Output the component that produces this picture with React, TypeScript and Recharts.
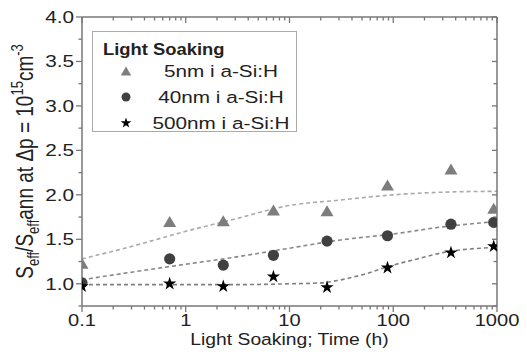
import {
  ComposedChart,
  Line,
  Scatter,
  XAxis,
  YAxis,
  Legend,
  Symbols,
} from "recharts"

// soaking times (h) of the measured points
const hours = [0.1, 0.7, 2.3, 7, 23, 88, 360, 930]
const ratio5nm = [1.23, 1.7, 1.71, 1.83, 1.82, 2.11, 2.29, 1.85]
const ratio40nm = [1.01, 1.28, 1.21, 1.32, 1.48, 1.54, 1.67, 1.69]
const ratio500nm = [0.97, 1.0, 0.97, 1.08, 0.96, 1.18, 1.35, 1.42]

// dashed guide curves
const fitHours = [0.1, 0.3, 1, 3, 10, 30, 100, 300, 1000]
const fit5nm = [1.28, 1.42, 1.59, 1.73, 1.88, 1.94, 2.0, 2.03, 2.04]
const fit40nm = [1.045, 1.13, 1.22, 1.3, 1.4, 1.49, 1.56, 1.64, 1.7]
const fitHours500 = [0.1, 1, 3, 10, 20, 30, 50, 100, 200, 300, 1000]
const fit500nm = [0.99, 0.99, 0.99, 1.0, 1.01, 1.04, 1.1, 1.21, 1.3, 1.35, 1.41]

const seriesNames = ["5nm i a-Si:H", "40nm i a-Si:H", "500nm i a-Si:H"]

const xMajor = [0.1, 1, 10, 100, 1000]
const xMinor = [0.1, 1, 10, 100].flatMap((d) =>
  [2, 3, 4, 5, 6, 7, 8, 9].map((m) => m * d)
)
const xTicks = [...xMajor, ...xMinor]
const yTicks = [0.75, 1, 1.25, 1.5, 1.75, 2, 2.25, 2.5, 2.75, 3, 3.25, 3.5, 3.75, 4]

const pts = (xs: number[], ys: number[]) => xs.map((t, i) => ({ t, v: ys[i] }))

const FONT = "'Liberation Sans', Arial, sans-serif"
const INK = "#222"
const AXIS = "#777"
const STRETCH = 1.22

const Triangle = ({ cx, cy, s = 1 }: any) => (
  <path
    d={`M${cx},${cy - 5.5 * s}L${cx - 6.5 * s},${cy + 5.5 * s}L${cx + 6.5 * s},${cy + 5.5 * s}Z`}
    fill="#7d7d7d"
  />
)
const Dot = ({ cx, cy, s = 1 }: any) => <circle cx={cx} cy={cy} r={5.6 * s} fill="#404040" />
const Star = ({ cx, cy, s = 1 }: any) => (
  <Symbols cx={cx} cy={cy} type="star" size={55 * s * s} fill="#000" />
)

const isMajorX = (v: number) => xMajor.includes(v)
const isMajorY = (v: number) => Math.abs(v * 2 - Math.round(v * 2)) < 1e-6

const BottomTick = ({ x, y, payload }: any) => {
  const major = isMajorX(payload.value)
  return (
    <g>
      <line x1={x} x2={x} y1={y} y2={y + (major ? 6 : 3.5)} stroke={AXIS} strokeWidth={1.3} />
      {major && (
        <text
          transform={`translate(${x},${y + 20}) scale(${STRETCH},1)`}
          textAnchor="middle"
          fontSize={16.5}
          fontFamily={FONT}
          fill={INK}
        >
          {payload.value}
        </text>
      )}
    </g>
  )
}

const TopTick = ({ x, y, payload }: any) => (
  <line
    x1={x}
    x2={x}
    y1={y}
    y2={y + (isMajorX(payload.value) ? 6 : 3.5)}
    stroke={AXIS}
    strokeWidth={1.3}
  />
)

const LeftTick = ({ x, y, payload }: any) => {
  const major = isMajorY(payload.value)
  return (
    <g>
      <line x1={x} x2={x - (major ? 6 : 3.5)} y1={y} y2={y} stroke={AXIS} strokeWidth={1.3} />
      {major && (
        <text
          transform={`translate(${x - 8},${y + 6}) scale(${STRETCH},1)`}
          textAnchor="end"
          fontSize={17}
          fontFamily={FONT}
          fill={INK}
        >
          {payload.value.toFixed(1)}
        </text>
      )}
    </g>
  )
}

const RightTick = ({ x, y, payload }: any) => (
  <line
    x1={x}
    x2={x - (isMajorY(payload.value) ? 5 : 3.5)}
    y1={y}
    y2={y}
    stroke={AXIS}
    strokeWidth={1.3}
  />
)

const XTitle = ({ viewBox }: any) => (
  <text
    transform={`translate(${viewBox.x + viewBox.width / 2},${viewBox.y + 39}) scale(1.17,1)`}
    textAnchor="middle"
    fontSize={16.5}
    fontFamily={FONT}
    fill={INK}
  >
    Light Soaking; Time (h)
  </text>
)

const YTitle = ({ viewBox }: any) => (
  <text
    transform={`translate(${viewBox.x + 25},${viewBox.y + viewBox.height / 2}) rotate(-90) scale(1,${STRETCH})`}
    textAnchor="middle"
    fontSize={19}
    fontFamily={FONT}
    fill={INK}
  >
    S
    <tspan dy={5} fontSize={13}>eff</tspan>
    <tspan dy={-5}>/S</tspan>
    <tspan dy={5} fontSize={13}>eff</tspan>
    <tspan dy={-5}>ann at Δp = 10</tspan>
    <tspan dy={-8} fontSize={13}>15</tspan>
    <tspan dy={8}>cm</tspan>
    <tspan dy={-8} fontSize={13}>-3</tspan>
  </text>
)

const LegendBox = () => {
  const rows = [Triangle, Dot, Star]
  return (
    <svg width={205} height={101} style={{ display: "block" }}>
      <rect x={0.5} y={0.5} width={204} height={100} fill="#fff" stroke="#aaa" />
      <text
        transform="translate(11,24) scale(1.15,1)"
        fontSize={16}
        fontWeight="bold"
        fontFamily={FONT}
        fill={INK}
      >
        Light Soaking
      </text>
      {rows.map((Mark, i) => (
        <g key={seriesNames[i]}>
          <Mark cx={34} cy={40 + i * 26} s={0.8} />
          <text
            transform={`translate(129,${46 + i * 26}) scale(${STRETCH},1)`}
            textAnchor="middle"
            fontSize={17}
            fontFamily={FONT}
            fill={INK}
          >
            {seriesNames[i]}
          </text>
        </g>
      ))}
    </svg>
  )
}

export default function App() {
  const axisLine = { stroke: AXIS, strokeWidth: 1.5 }
  return (
    <ComposedChart
      width={511}
      height={340}
      margin={{ top: 8, right: 21, bottom: 0, left: 0 }}
      style={{ fontFamily: FONT }}
    >
      <XAxis
        xAxisId="b"
        dataKey="t"
        type="number"
        scale="log"
        domain={[0.1, 1000]}
        allowDataOverflow
        ticks={xTicks}
        interval={0}
        height={42}
        tickSize={0}
        tickMargin={0}
        tickLine={false}
        axisLine={axisLine}
        tick={<BottomTick />}
        label={<XTitle />}
      />
      <XAxis
        xAxisId="t"
        orientation="top"
        dataKey="t"
        type="number"
        scale="log"
        domain={[0.1, 1000]}
        allowDataOverflow
        ticks={xTicks}
        interval={0}
        height={1}
        tickSize={0}
        tickMargin={0}
        tickLine={false}
        axisLine={axisLine}
        tick={<TopTick />}
      />
      <YAxis
        yAxisId="l"
        dataKey="v"
        type="number"
        domain={[0.75, 4]}
        allowDataOverflow
        ticks={yTicks}
        interval={0}
        width={74}
        tickSize={0}
        tickMargin={0}
        tickLine={false}
        axisLine={axisLine}
        tick={<LeftTick />}
        label={<YTitle />}
      />
      <YAxis
        yAxisId="r"
        orientation="right"
        dataKey="v"
        type="number"
        domain={[0.75, 4]}
        allowDataOverflow
        ticks={yTicks}
        interval={0}
        width={1}
        tickSize={0}
        tickMargin={0}
        tickLine={false}
        axisLine={axisLine}
        tick={<RightTick />}
      />

      <Line
        xAxisId="b"
        yAxisId="l"
        data={pts(fitHours, fit5nm)}
        dataKey="v"
        type="monotone"
        stroke="#aaa"
        strokeWidth={1.6}
        strokeDasharray="4 3"
        dot={false}
        activeDot={false}
        legendType="none"
        isAnimationActive={false}
      />
      <Line
        xAxisId="b"
        yAxisId="l"
        data={pts(fitHours, fit40nm)}
        dataKey="v"
        type="monotone"
        stroke="#888"
        strokeWidth={1.6}
        strokeDasharray="4 3"
        dot={false}
        activeDot={false}
        legendType="none"
        isAnimationActive={false}
      />
      <Line
        xAxisId="b"
        yAxisId="l"
        data={pts(fitHours500, fit500nm)}
        dataKey="v"
        type="monotone"
        stroke="#808080"
        strokeWidth={1.6}
        strokeDasharray="4 3"
        dot={false}
        activeDot={false}
        legendType="none"
        isAnimationActive={false}
      />

      <Scatter
        xAxisId="b"
        yAxisId="l"
        name={seriesNames[0]}
        data={pts(hours, ratio5nm)}
        dataKey="v"
        shape={(p: any) => <Triangle cx={p.cx} cy={p.cy} />}
        isAnimationActive={false}
      />
      <Scatter
        xAxisId="b"
        yAxisId="l"
        name={seriesNames[1]}
        data={pts(hours, ratio40nm)}
        dataKey="v"
        shape={(p: any) => <Dot cx={p.cx} cy={p.cy} />}
        isAnimationActive={false}
      />
      <Scatter
        xAxisId="b"
        yAxisId="l"
        name={seriesNames[2]}
        data={pts(hours, ratio500nm)}
        dataKey="v"
        shape={(p: any) => <Star cx={p.cx} cy={p.cy} />}
        isAnimationActive={false}
      />

      <Legend
        verticalAlign="middle"
        align="center"
        content={() => <LegendBox />}
        wrapperStyle={{ left: 84, top: 23, width: 205, height: 101 }}
      />
    </ComposedChart>
  )
}
